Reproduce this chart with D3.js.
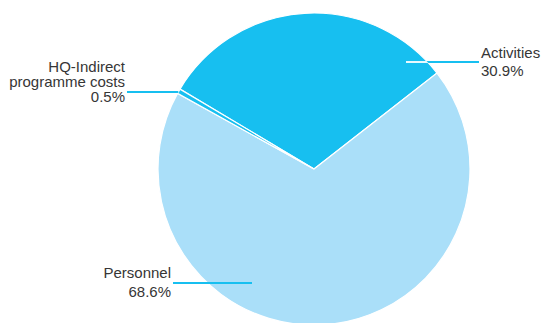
<!DOCTYPE html>
<html>
<head>
<meta charset="utf-8">
<script src="https://cdn.jsdelivr.net/npm/d3@7/dist/d3.min.js"></script>
<style>
  html, body { margin: 0; padding: 0; background: #fff; }
  svg { display: block; }
  text { font-family: "Liberation Sans", Arial, Helvetica, sans-serif; fill: #363636; }
</style>
</head>
<body>
<svg id="chart" width="542" height="323"></svg>
<script>
// Budget split by cost category (percent of total)
const categories = ["Activities", "Personnel", "HQ-Indirect programme costs"];
const shares = [30.9, 68.6, 0.5];
const labelLines = [["Activities"], ["Personnel"], ["HQ-Indirect", "programme costs"]];

const colors = ["#17bff0", "#aadff9", "#17bff0"];
const lineColor = "#17bff0";

const width = 542, height = 323;
const cx = 314, cy = 169, radius = 156;
const deg = Math.PI / 180;

// Label placement: inner anchor x, leader end, text position
const labelLayout = [
  { x0: 406, lineEnd: 479, textX: 481, align: "start", lineY: 62, firstBase: 57.5, step: 18.4, lighten: true },
  { x0: 252, lineEnd: 173, textX: 171, align: "end", lineY: 283, firstBase: 278, step: 18.6, lighten: false },
  { x0: null, lineEnd: 127, textX: 125, align: "end", lineY: 92, firstBase: 72.3, step: 14.8, lighten: false }
];

const svg = d3.select("#chart");
const g = svg.append("g").attr("transform", `translate(${cx},${cy})`);

const data = categories.map((c, i) => ({ name: c, value: shares[i], i }));

const pie = d3.pie()
  .value(d => d.value)
  .sort(null)
  .startAngle(-59.2 * deg)
  .endAngle(-59.2 * deg + 2 * Math.PI);

const arc = d3.arc().innerRadius(0).outerRadius(radius);
const arcs = pie(data);

g.selectAll("path.slice")
  .data(arcs)
  .join("path")
  .attr("class", "slice")
  .attr("d", arc)
  .attr("fill", d => colors[d.data.i])
  .attr("stroke", "#fff")
  .attr("stroke-width", 1.2);

// clip paths per slice, used to lighten leader lines over same-coloured slices
const defs = svg.append("defs");
arcs.forEach((a, k) => {
  defs.append("clipPath").attr("id", "clip" + k)
    .append("path").attr("d", arc(a));
});

arcs.forEach((a, k) => {
  const L = labelLayout[k];
  const y = L.lineY - cy;
  // when no inner anchor is given, start the leader on the slice's rim
  const x0 = L.x0 === null ? -Math.sqrt(radius * radius - y * y) : L.x0 - cx;
  const x1 = L.lineEnd - cx;

  g.append("line")
    .attr("x1", x0).attr("y1", y).attr("x2", x1).attr("y2", y)
    .attr("stroke", lineColor).attr("stroke-width", 2);

  if (L.lighten) {
    g.append("line")
      .attr("clip-path", `url(#clip${k})`)
      .attr("x1", x0).attr("y1", y).attr("x2", x1).attr("y2", y)
      .attr("stroke", "#fff").attr("stroke-opacity", 0.9).attr("stroke-width", 2);
  }

  const lines = labelLines[a.data.i].concat([d3.format(".1f")(a.data.value) + "%"]);
  const t = svg.append("text")
    .attr("text-anchor", L.align)
    .attr("font-size", 15);
  lines.forEach((s, j) => {
    t.append("tspan")
      .attr("x", L.textX)
      .attr("y", L.firstBase + j * L.step)
      .text(s);
  });
});
</script>
</body>
</html>
